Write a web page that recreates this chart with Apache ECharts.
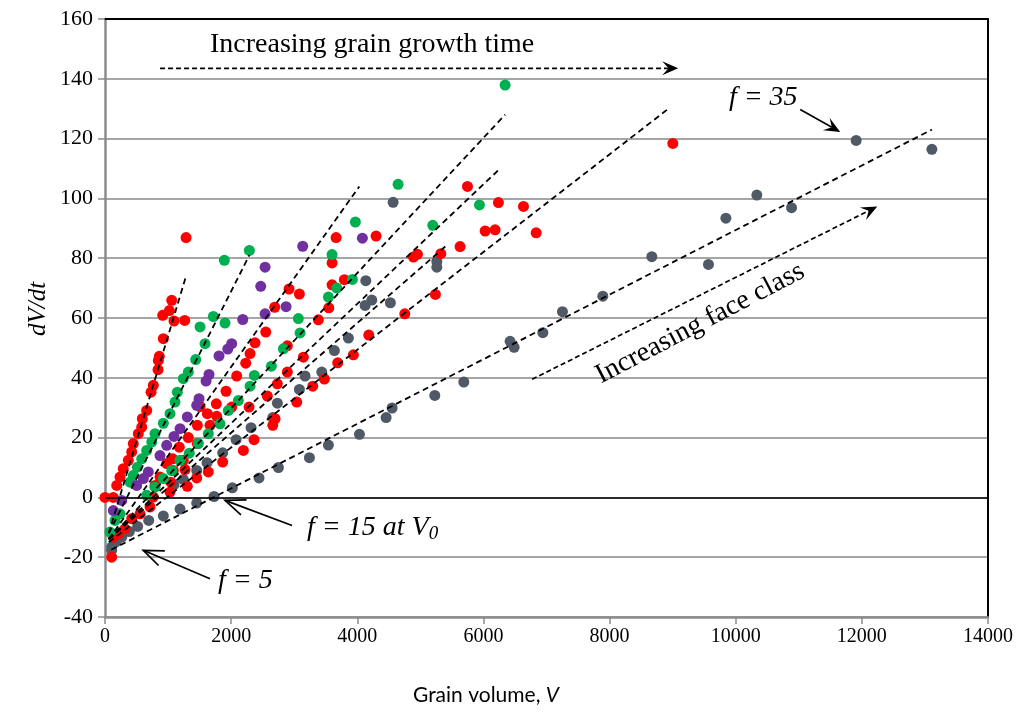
<!DOCTYPE html>
<html>
<head>
<meta charset="utf-8">
<script src="https://cdn.jsdelivr.net/npm/echarts@6/dist/echarts.min.js"></script>
<style>
html, body { margin: 0; padding: 0; background: #fff; }
#chart { width: 1024px; height: 715px; }
</style>
</head>
<body>
<div id="chart"></div>
<script>
// points: [V, dV/dt]
const grayPts = [
    [11910, 119.4], [13110, 116.4], [10335, 101.1], [10885, 96.9], [9844, 93.4], [8670, 80.5], [9568, 77.9],
    [7893, 67.3], [7253, 62.1], [6942, 55.1], [6423, 52.2], [6487, 50.2],
    [5689, 38.6], [5229, 34.1], [4552, 29.9], [4457, 26.7], [4034, 21.1], [3542, 17.5], [3241, 13.3], [2749, 10.0],
    [3172, 40.6], [3437, 41.9], [3082, 36.1],
    [4568, 98.7], [5261, 78.9], [5261, 77.0], [4135, 72.5], [4230, 66.0], [4124, 64.2], [4525, 65.1], [3859, 53.3], [3637, 49.1],
    [2442, 6.5], [2019, 3.2], [1729, 0.3], [1454, -1.9], [1190, -3.9], [925, -6.2], [693, -7.7], [518, -9.7],
    [386, -11.4], [265, -13.3], [174, -14.9], [106, -16.6], [106, -17.7],
    [2733, 31.5], [2316, 23.3], [2078, 19.3], [1866, 14.9], [1618, 11.6], [1454, 9.0], [1242, 6.0], [1094, 4.3], [2660, 26.7]
];
const redPts = [
    [1285, 86.9], [1058, 65.9], [1020, 62.5], [915, 60.9], [1094, 59.0], [1264, 59.2], [925, 53.1], [861, 47.2],
    [846, 45.8], [841, 42.7], [766, 37.5], [730, 35.2], [661, 29.1],
    [2691, 63.6], [2549, 55.3], [2379, 51.7], [2300, 48.1], [2231, 44.9], [2088, 40.6], [1919, 35.5], [1765, 31.3],
    [2733, 38.0], [2574, 33.9], [2284, 30.2],
    [5747, 104.0], [6238, 98.6], [6027, 89.1], [6185, 89.5], [5630, 83.9], [5324, 81.5], [4954, 81.3], [4890, 80.4],
    [4298, 87.4], [3664, 86.9], [3600, 78.4], [3795, 72.8], [3600, 71.1], [3548, 63.4], [2918, 69.7], [3082, 68.0],
    [3383, 59.4], [5239, 67.9], [4753, 61.4], [2891, 50.7], [3145, 46.9], [4182, 54.3], [3938, 47.7], [3690, 45.0],
    [2891, 41.9], [3478, 39.6], [3294, 37.2], [3040, 31.9], [2696, 26.3], [2660, 24.1],
    [9003, 118.4], [6635, 97.3], [6836, 88.5],
    [592, 26.3], [582, 23.5], [528, 21.3], [449, 18.0], [423, 15.2], [370, 12.4], [290, 9.6], [238, 6.8], [186, 4.0],
    [0, 0], [132, 0], [106, -20.0],
    [1623, 28.0], [1464, 24.1], [1665, 24.1], [1321, 20.0], [1464, 18.0], [1178, 16.8], [1074, 12.9], [1242, 12.4],
    [978, 11.3], [1083, 9.0], [1269, 9.3], [872, 6.8], [1042, 5.1], [1031, 1.8], [793, 4.0], [766, 0.1], [714, -3.2],
    [555, -5.5], [423, -7.1], [317, -10.5], [211, -12.1], [132, -13.3],
    [1866, 11.8], [1638, 8.5], [1454, 6.5], [1305, 3.7], [2194, 15.7], [2363, 19.3], [1771, 27.1], [1507, 30.4], [2009, 30.2]
];
const greenPts = [
    [2289, 82.6], [1892, 79.3], [1718, 60.5], [1903, 58.3], [1507, 57.0], [1586, 51.4], [1438, 46.1], [1321, 41.9],
    [1242, 39.7], [1147, 35.2], [1110, 31.9], [2638, 43.9], [2368, 40.8], [2300, 37.2], [2114, 32.4],
    [4647, 104.7], [5937, 97.8], [3970, 92.1], [5197, 91.0], [3600, 81.2], [3922, 72.9], [3675, 70.0], [3542, 67.0],
    [3066, 59.8], [3093, 55.0], [2828, 49.7], [6344, 137.9],
    [1031, 28.0], [925, 24.8], [793, 21.3], [741, 18.5], [661, 15.7], [582, 12.9], [513, 10.1], [449, 7.4], [397, 5.1],
    [1956, 29.1], [1824, 24.6], [1638, 21.3], [1480, 18.0], [1337, 14.8], [1190, 12.4], [1058, 9.0], [925, 6.3],
    [793, 3.4], [661, 0.7], [238, -5.5], [159, -7.7], [79, -11.6]
];
const purplePts = [
    [2538, 77.0], [2469, 70.6], [2538, 61.4], [2184, 59.5], [2009, 51.4], [1946, 49.6], [1808, 47.3], [1649, 41.1],
    [1602, 38.9], [1491, 33.0], [1454, 30.8], [3135, 84.0], [4081, 86.7], [2871, 63.8],
    [1305, 26.9], [1190, 23.0], [1094, 20.4], [978, 17.4], [872, 14.0], [687, 8.5], [608, 6.3], [502, 4.0],
    [265, -1.0], [132, -4.4]
];

// dashed fit lines: [start, end]
const fitLines = [
    [[60, -12], [1285, 74]],
    [[60, -12], [2289, 81]],
    [[60, -14], [4032, 104]],
    [[60, -14], [6344, 128]],
    [[60, -14], [6265, 110]],
    [[60, -14], [5400, 84]],
    [[60, -15], [8934, 130]],
    [[100, -17.5], [13110, 123]]
];

// annotation arrows [from, to] and text anchors, in data units
const growthArrow = [[872, 143.5], [9088, 143.5]];
const faceArrow = [[6772, 39.5], [12244, 97.3]];
const f35Arrow = [[11023, 129.7], [11657, 122.2]];
const f15Arrow = [[2966, -9.4], [1903, -1.0]];
const f5Arrow = [[1665, -27.2], [607, -17.7]];

const colors = { gray: '#505966', red: '#ff0000', green: '#00b050', purple: '#7030a0' };

const chart = echarts.init(document.getElementById('chart'));

const dotSeries = (data, color) => ({
    type: 'scatter',
    data: data,
    symbolSize: 11,
    itemStyle: { color: color, opacity: 1 },
    silent: true
});

const lineSeries = fitLines.map(pts => ({
    type: 'line',
    data: pts,
    symbol: 'none',
    lineStyle: { color: '#000', width: 1.8, type: [6, 4] },
    silent: true
}));

chart.setOption({
    animation: false,
    backgroundColor: '#fff',
    grid: { left: 105, right: 36, top: 19, bottom: 98 },
    xAxis: [{
        type: 'value',
        min: 0, max: 14000, interval: 2000,
        axisLine: { show: true, onZero: false, lineStyle: { color: '#8c8c8c', width: 2.5 } },
        axisTick: { show: true, length: 7, lineStyle: { color: '#8c8c8c', width: 1.5 } },
        axisLabel: { fontFamily: 'Liberation Serif', fontSize: 20, color: '#000', margin: 10, formatter: v => String(v) },
        splitLine: { show: false }
    }, {
        type: 'value', position: 'top',
        min: 0, max: 14000,
        axisLine: { show: true, onZero: false, lineStyle: { color: '#000', width: 2 } },
        axisTick: { show: false }, axisLabel: { show: false }, splitLine: { show: false }
    }],
    yAxis: [{
        type: 'value',
        min: -40, max: 160, interval: 20,
        axisLine: { show: true, onZero: false, lineStyle: { color: '#8c8c8c', width: 2.5 } },
        axisTick: { show: true, length: 7, lineStyle: { color: '#8c8c8c', width: 1.5 } },
        axisLabel: { fontFamily: 'Liberation Serif', fontSize: 22, color: '#000', margin: 12 },
        splitLine: { show: true, lineStyle: { color: '#a6a6a6', width: 2 } }
    }, {
        type: 'value', position: 'right',
        min: -40, max: 160,
        axisLine: { show: true, onZero: false, lineStyle: { color: '#000', width: 2 } },
        axisTick: { show: false }, axisLabel: { show: false }, splitLine: { show: false }
    }],
    series: [
        Object.assign(dotSeries(grayPts, colors.gray), {
            markLine: {
                silent: true, symbol: 'none', label: { show: false },
                lineStyle: { color: '#000', width: 1.5, type: 'solid' },
                data: [{ yAxis: 0 }]
            }
        }),
        dotSeries(redPts, colors.red),
        dotSeries(greenPts, colors.green),
        dotSeries(purplePts, colors.purple),
        ...lineSeries
    ]
});

// annotations: arrows and labels placed from data coordinates
const px = p => chart.convertToPixel({ xAxisIndex: 0, yAxisIndex: 0 }, p);

function arrow(pair, opts) {
    const a = px(pair[0]), b = px(pair[1]);
    const dx = b[0] - a[0], dy = b[1] - a[1];
    const len = Math.sqrt(dx * dx + dy * dy);
    const ux = dx / len, uy = dy / len, nx = -uy, ny = ux;
    const L = opts.headLen, W = opts.headWidth;
    const out = [];
    if (opts.head === 'stealth') {
        const notch = L * 0.6;
        out.push({
            type: 'line', silent: true,
            shape: { x1: a[0], y1: a[1], x2: b[0] - ux * notch, y2: b[1] - uy * notch },
            style: { stroke: '#000', lineWidth: 1.7, lineDash: opts.dashed ? [5, 3] : null }
        });
        out.push({
            type: 'polygon', silent: true,
            shape: { points: [
                [b[0], b[1]],
                [b[0] - ux * L + nx * W, b[1] - uy * L + ny * W],
                [b[0] - ux * notch, b[1] - uy * notch],
                [b[0] - ux * L - nx * W, b[1] - uy * L - ny * W]
            ] },
            style: { fill: '#000' }
        });
    } else {
        out.push({
            type: 'line', silent: true,
            shape: { x1: a[0], y1: a[1], x2: b[0], y2: b[1] },
            style: { stroke: '#000', lineWidth: 1.7 }
        });
        out.push({
            type: 'polyline', silent: true,
            shape: { points: [
                [b[0] - ux * L + nx * W, b[1] - uy * L + ny * W],
                [b[0], b[1]],
                [b[0] - ux * L - nx * W, b[1] - uy * L - ny * W]
            ] },
            style: { stroke: '#000', lineWidth: 1.7, fill: null }
        });
    }
    return out;
}

function label(pos, text, opts) {
    const p = px(pos);
    return Object.assign({
        type: 'text', silent: true,
        x: p[0], y: p[1],
        style: Object.assign({
            text: text,
            fontFamily: 'Liberation Serif',
            fontSize: 28,
            fill: '#000',
            align: 'left',
            verticalAlign: 'middle'
        }, opts.style || {})
    }, opts.el || {});
}

const graphics = [
    ...arrow(growthArrow, { head: 'stealth', dashed: true, headLen: 16, headWidth: 7 }),
    ...arrow(faceArrow, { head: 'stealth', dashed: true, headLen: 16, headWidth: 7 }),
    ...arrow(f35Arrow, { head: 'stealth', dashed: false, headLen: 16, headWidth: 7 }),
    ...arrow(f15Arrow, { head: 'open', headLen: 20, headWidth: 8 }),
    ...arrow(f5Arrow, { head: 'open', headLen: 20, headWidth: 8 }),
    label([1665, 151.5], 'Increasing grain growth time', {}),
    label([10436, 133.8], 'f = 35', { style: { fontStyle: 'italic', align: 'center' } }),
    label([9437, 58.2], 'Increasing face class', { style: { align: 'center' }, el: { rotation: 27.6 * Math.PI / 180 } }),
    label([3204, -10], '{t|f = 15 at V}{s|0}', { style: {
        rich: {
            t: { fontFamily: 'Liberation Serif', fontStyle: 'italic', fontSize: 28, fill: '#000' },
            s: { fontFamily: 'Liberation Serif', fontStyle: 'italic', fontSize: 19, fill: '#000', padding: [14, 0, 0, 0] }
        }
    } }),
    label([1792, -27.8], 'f = 5', { style: { fontStyle: 'italic' } }),
    {
        // y-axis title
        type: 'text', silent: true,
        x: 38, y: 309, rotation: Math.PI / 2,
        style: {
            text: 'dV/dt', fontFamily: 'Liberation Serif', fontStyle: 'italic', fontSize: 25,
            fill: '#000', align: 'center', verticalAlign: 'middle'
        }
    },
    {
        // x-axis title
        type: 'text', silent: true,
        x: 486, y: 695,
        style: {
            text: '{a|Grain volume, }{b|V}',
            align: 'center',
            verticalAlign: 'middle',
            rich: {
                a: { fontFamily: 'Lato', fontSize: 21, fill: '#000' },
                b: { fontFamily: 'Lato', fontStyle: 'italic', fontSize: 21, fill: '#000' }
            }
        }
    }
];

chart.setOption({ graphic: graphics });
</script>
</body>
</html>
